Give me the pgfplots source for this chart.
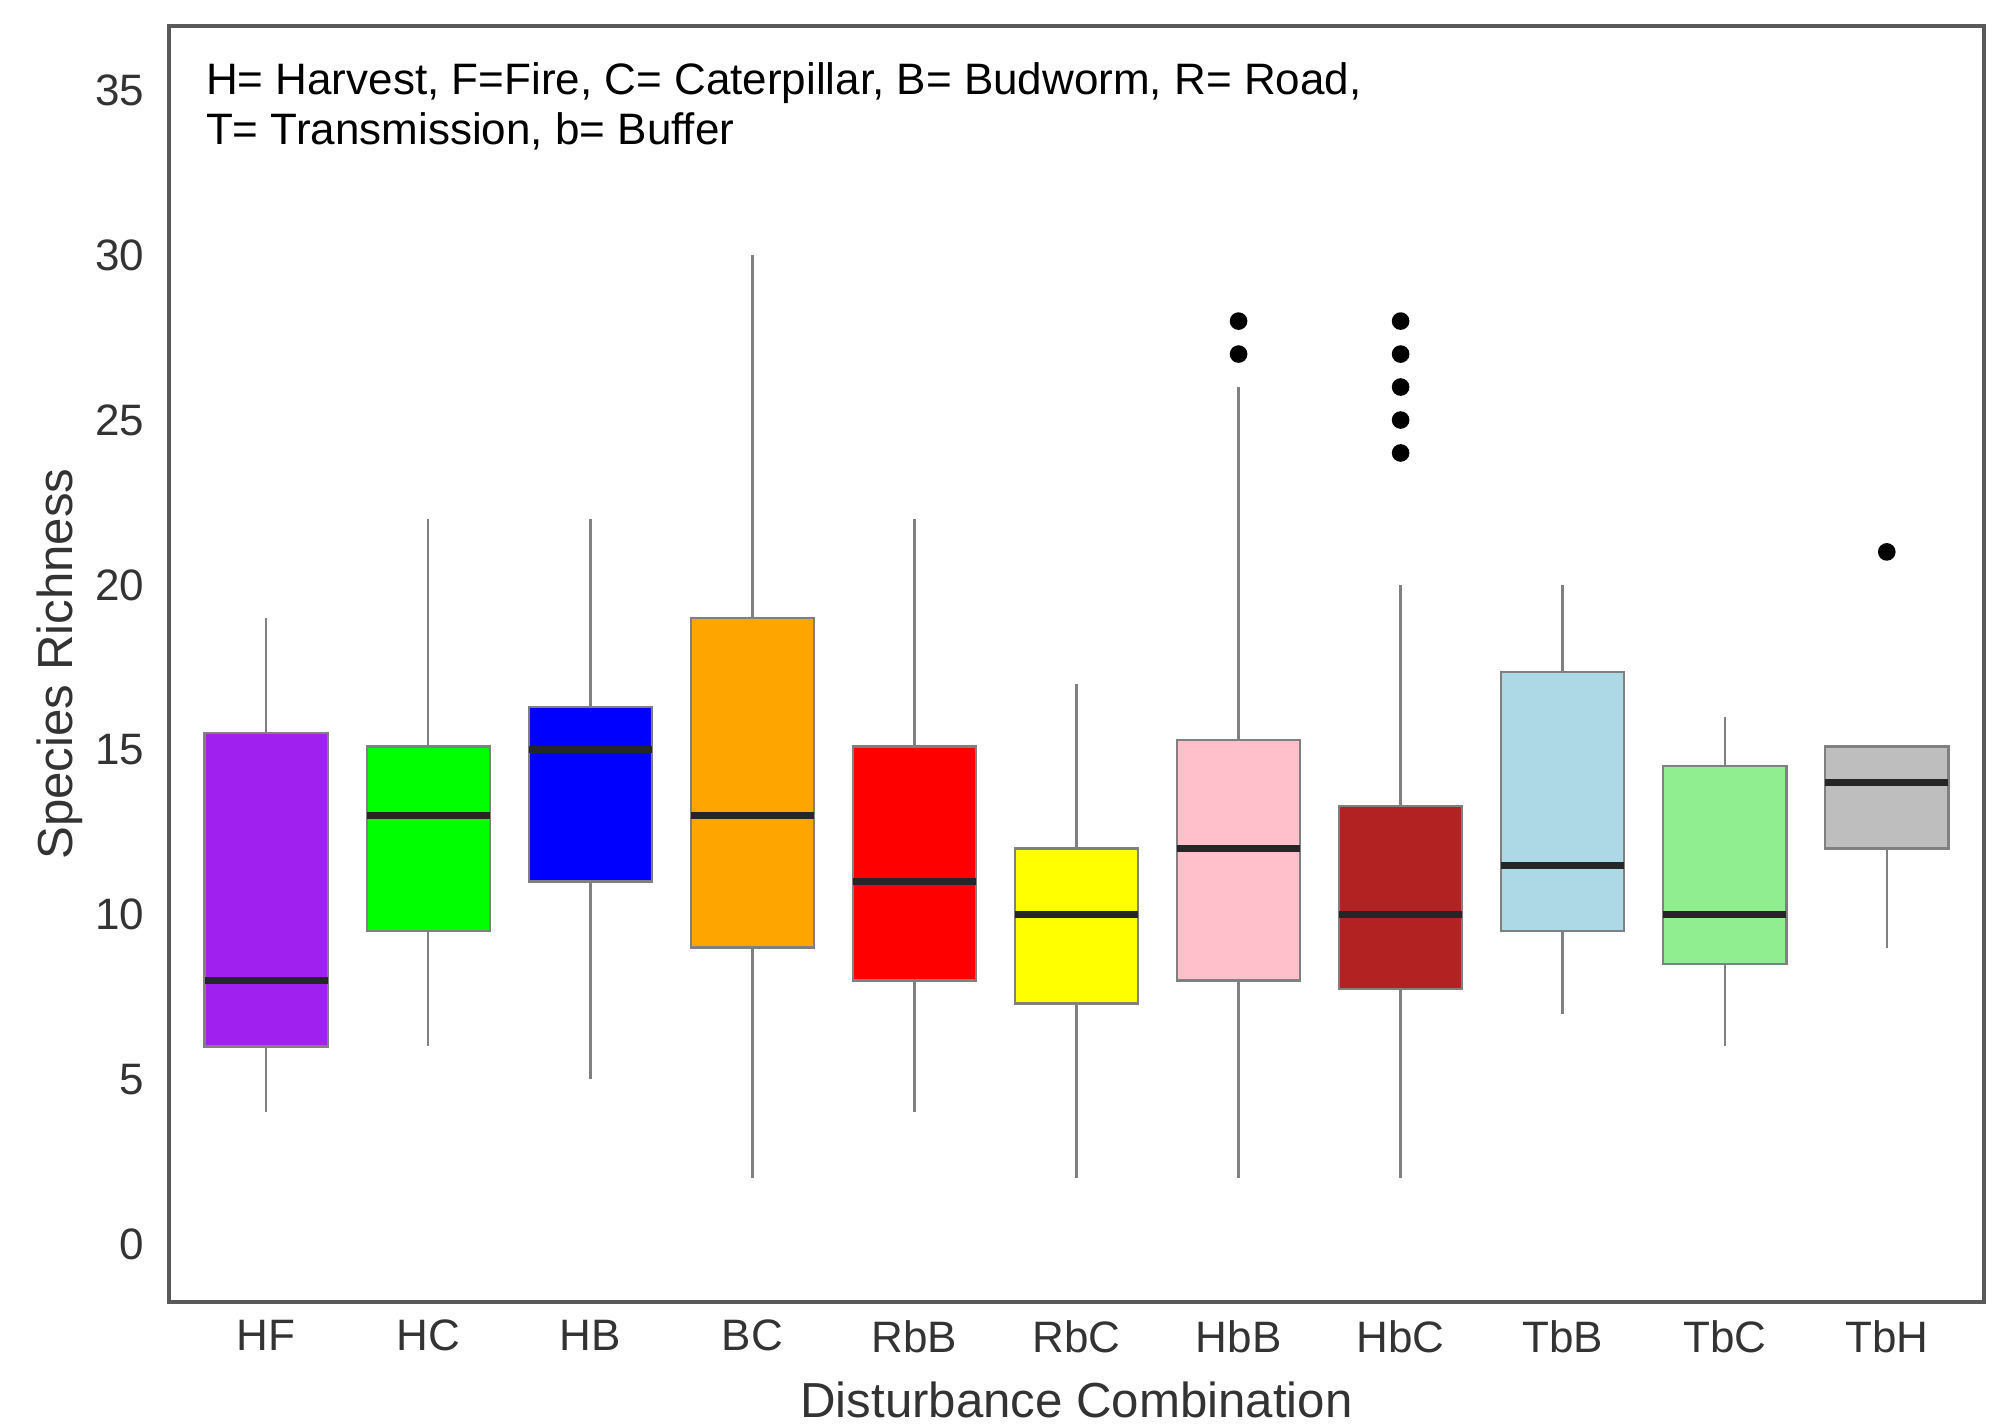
\documentclass[border=0pt]{standalone}
\usepackage{fontspec}
\setmainfont{Liberation Sans}
\usepackage{pgfplots}
\pgfplotsset{compat=1.18}
\usepgfplotslibrary{statistics}

\definecolor{cHF}{HTML}{A020F0}
\definecolor{cHC}{HTML}{00FF00}
\definecolor{cHB}{HTML}{0000FF}
\definecolor{cBC}{HTML}{FFA500}
\definecolor{cRbB}{HTML}{FF0000}
\definecolor{cRbC}{HTML}{FFFF00}
\definecolor{cHbB}{HTML}{FFC0CB}
\definecolor{cHbC}{HTML}{B22222}
\definecolor{cTbB}{HTML}{ADD8E6}
\definecolor{cTbC}{HTML}{90EE90}
\definecolor{cTbH}{HTML}{BEBEBE}

\pgfplotsset{
  bx/.style={draw=gray, line width=0.6pt, fill=#1,
    mark=*, mark size=1.9pt, mark options={draw=black, fill=black}},
}

\begin{document}
\begin{tikzpicture}
  \useasboundingbox (-42.25pt,-31pt) rectangle (460.5pt,325.5pt);
  \begin{axis}[
      scale only axis,
      width=453.75pt, height=319pt,
      xmin=0.4, xmax=11.6,
      ymin=-1.75, ymax=36.95,
      xtick={1,...,11},
      xticklabels={HF,HC,HB,BC,RbB,RbC,HbB,HbC,TbB,TbC,TbH},
      ytick={0,5,...,35},
      major tick length=0pt,
      axis line style={draw=black!65, line width=0.8pt},
      tick label style={font=\fontsize{11}{13}\selectfont, text=black!80},
      /pgf/number format/assume math mode=true,
      xticklabel style={yshift=-1pt},
      yticklabel style={xshift=-2.7pt},
      xlabel={Disturbance Combination},
      ylabel={Species Richness},
      label style={font=\fontsize{12.3}{14}\selectfont, text=black!80},
      xlabel style={at={(axis description cs:0.5,-0.077)}, anchor=center},
      ylabel style={at={(axis description cs:-0.06,0.5)}, anchor=center},
      boxplot/draw direction=y,
      boxplot/box extend=0.76,
      boxplot/whisker extend=0,
      boxplot/every median/.style={draw=black!85, line width=1.7pt},
      boxplot/every whisker/.style={draw=gray, line width=0.6pt},
      boxplot/every box/.style={draw=gray, line width=0.6pt},
    ]
    % HF
    \addplot[bx=cHF, boxplot prepared={draw position=1,
        lower whisker=4, lower quartile=6, median=8,
        upper quartile=15.5, upper whisker=19}] coordinates {};
    % HC
    \addplot[bx=cHC, boxplot prepared={draw position=2,
        lower whisker=6, lower quartile=9.5, median=13,
        upper quartile=15.1, upper whisker=22}] coordinates {};
    % HB
    \addplot[bx=cHB, boxplot prepared={draw position=3,
        lower whisker=5, lower quartile=11, median=15,
        upper quartile=16.3, upper whisker=22}] coordinates {};
    % BC
    \addplot[bx=cBC, boxplot prepared={draw position=4,
        lower whisker=2, lower quartile=9, median=13,
        upper quartile=19, upper whisker=30}] coordinates {};
    % RbB
    \addplot[bx=cRbB, boxplot prepared={draw position=5,
        lower whisker=4, lower quartile=8, median=11,
        upper quartile=15.1, upper whisker=22}] coordinates {};
    % RbC
    \addplot[bx=cRbC, boxplot prepared={draw position=6,
        lower whisker=2, lower quartile=7.3, median=10,
        upper quartile=12, upper whisker=17}] coordinates {};
    % HbB
    \addplot[bx=cHbB, boxplot prepared={draw position=7,
        lower whisker=2, lower quartile=8, median=12,
        upper quartile=15.3, upper whisker=26}]
      table[row sep=\\, y index=0] {y\\ 28\\ 27\\};
    % HbC
    \addplot[bx=cHbC, boxplot prepared={draw position=8,
        lower whisker=2, lower quartile=7.75, median=10,
        upper quartile=13.3, upper whisker=20}]
      table[row sep=\\, y index=0] {y\\ 28\\ 27\\ 26\\ 25\\ 24\\};
    % TbB
    \addplot[bx=cTbB, boxplot prepared={draw position=9,
        lower whisker=7, lower quartile=9.5, median=11.5,
        upper quartile=17.35, upper whisker=20}] coordinates {};
    % TbC
    \addplot[bx=cTbC, boxplot prepared={draw position=10,
        lower whisker=6, lower quartile=8.5, median=10,
        upper quartile=14.5, upper whisker=16}] coordinates {};
    % TbH
    \addplot[bx=cTbH, boxplot prepared={draw position=11,
        lower whisker=9, lower quartile=12, median=14,
        upper quartile=15.1, upper whisker=15.1}]
      table[row sep=\\, y index=0] {y\\ 21\\};

    \node[anchor=north west, align=left, inner sep=0pt,
          font=\fontsize{11}{12.5}\selectfont]
      at (rel axis cs:0.02,0.972)
      {H= Harvest, F=Fire, C= Caterpillar, B= Budworm, R= Road,\\
       T= Transmission, b= Buffer};
  \end{axis}
\end{tikzpicture}
\end{document}
